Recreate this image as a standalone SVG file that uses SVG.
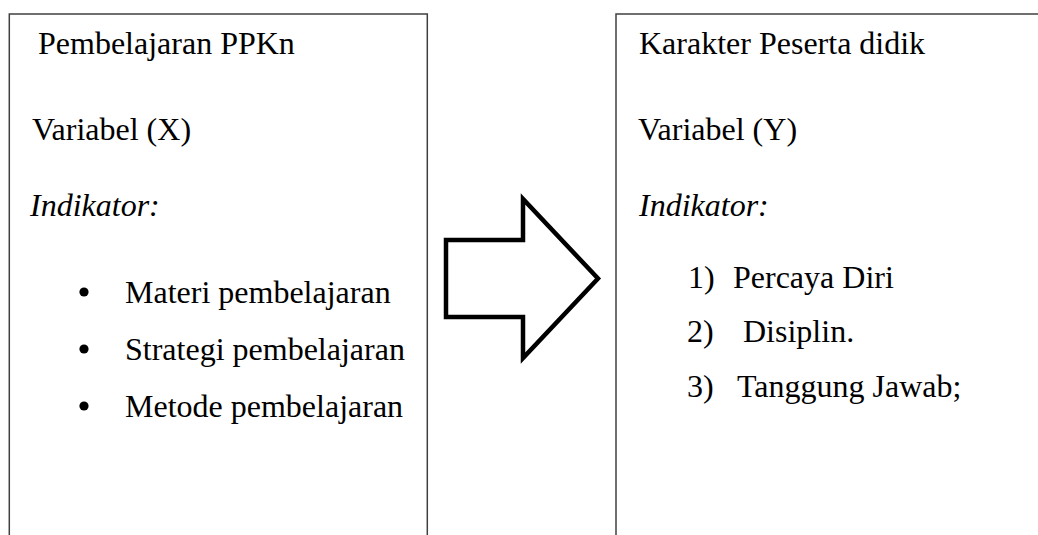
<svg xmlns="http://www.w3.org/2000/svg" width="1038" height="535" viewBox="0 0 1038 535">
  <style>
    .box { fill: #ffffff; stroke: #404040; stroke-width: 1.5; }
    .t { font-family: "Liberation Serif", "Times New Roman", serif; font-size: 32px; fill: #000000; }
    .i { font-style: italic; }
    .bullet { fill: #000000; }
    .arrow { fill: #ffffff; stroke: #000000; stroke-width: 4.5; stroke-linejoin: miter; }
  </style>
  <rect width="1038" height="535" fill="#ffffff"/>
  <g id="node-x">
    <rect class="box" x="9.3" y="14" width="418" height="540"/>
    <text class="t" x="38" y="54">Pembelajaran PPKn</text>
    <text class="t" x="32" y="140">Variabel (X)</text>
    <text class="t i" x="30" y="216">Indikator:</text>
    <circle class="bullet" cx="84" cy="292" r="4.6"/>
    <text class="t" x="125" y="303">Materi pembelajaran</text>
    <circle class="bullet" cx="84" cy="349" r="4.6"/>
    <text class="t" x="125" y="360">Strategi pembelajaran</text>
    <circle class="bullet" cx="84" cy="406" r="4.6"/>
    <text class="t" x="125" y="417">Metode pembelajaran</text>
  </g>
  <g id="node-y">
    <rect class="box" x="616" y="14" width="440" height="540"/>
    <text class="t" x="639" y="54">Karakter Peserta didik</text>
    <text class="t" x="638" y="140">Variabel (Y)</text>
    <text class="t i" x="639" y="216">Indikator:</text>
    <text class="t" y="288"><tspan x="688">1)</tspan><tspan x="733">Percaya Diri</tspan></text>
    <text class="t" y="342"><tspan x="687">2)</tspan><tspan x="743">Disiplin.</tspan></text>
    <text class="t" y="397"><tspan x="687">3)</tspan><tspan x="737">Tanggung Jawab;</tspan></text>
  </g>
  <g id="connectors">
    <polygon class="arrow" points="446,240 523,240 523,199 598,278.5 523,358 523,317 446,317"/>
  </g>
</svg>
